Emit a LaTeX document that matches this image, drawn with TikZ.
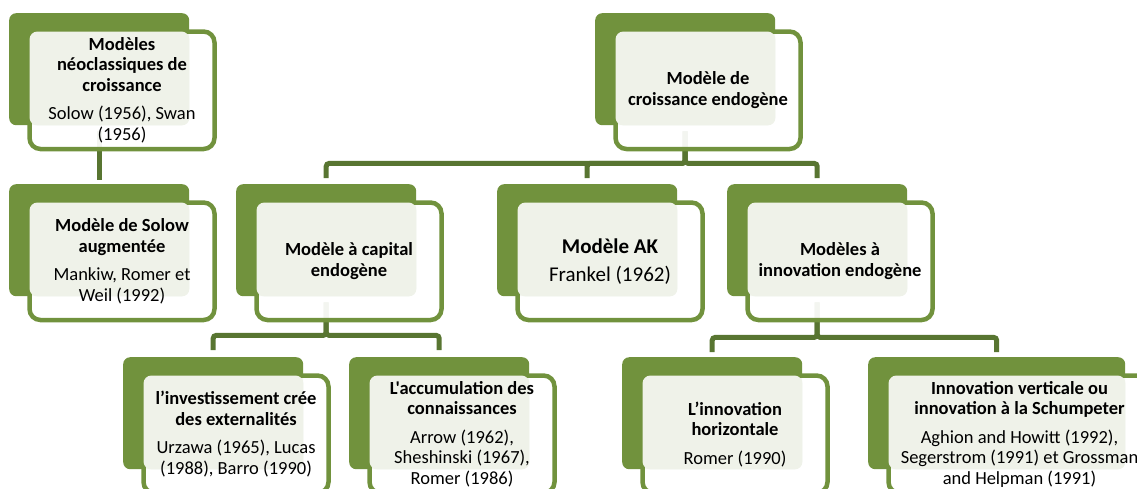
\documentclass[tikz,border=0pt]{standalone}
\usepackage{fontspec}
\setmainfont{Carlito}[Ligatures=TeXOff]
\usetikzlibrary{calc}

\definecolor{BoxGreen}{HTML}{71923D}
\definecolor{LinkGreen}{HTML}{587531}
\definecolor{TintGreen}{HTML}{EFF2E9}

\tikzset{
  backbox/.style={rectangle, rounded corners=7pt, fill=BoxGreen, inner sep=0pt,
    anchor=north west, minimum height=112pt},
  frontbox/.style={rectangle, rounded corners=11pt, draw=BoxGreen, line width=4.5pt,
    fill=white, fill opacity=0.93, inner sep=0pt, anchor=north west, minimum height=117.5pt},
  tint/.style={fill=TintGreen, rounded corners=8pt},
  link/.style={draw=LinkGreen, line width=5pt, rounded corners=3pt},
  boxtext/.style={align=center, inner sep=0pt, font=\fontsize{18.5}{20.5}\selectfont},
}

\begin{document}
\begin{tikzpicture}[x=1pt, y=-1pt]

\useasboundingbox (0,0) rectangle (1137,488);

% Back boxes
\foreach \nm/\x/\y/\w in {neo/9/13/180, solow/9/184/180, endo/595/13/180,
    capital/236/184/180, ak/497/184/180, innov/727/184/180,
    invest/123/357/180, accum/349/357/180, horiz/622/357/180, schump/868/357/257}
{
    \node[backbox, minimum width=\w pt] (\nm B) at (\x,\y) {};
}

% Links
\draw[link, shorten <=6pt, shorten >=4pt] (neoB.south) -- (solowB.north);

\coordinate (endoBus) at ($(endoB.south)+(0,38)$);
\draw[link, shorten <=6pt, shorten >=6pt] (endoB.south) -- (endoBus) -| (capitalB.north);
\draw[link, shorten <=6pt, shorten >=6pt] (endoB.south) -- (endoBus) -| (akB.north);
\draw[link, shorten <=6pt, shorten >=6pt] (endoB.south) -- (endoBus) -| (innovB.north);

\coordinate (capitalBus) at ($(capitalB.south)+(0,39)$);
\draw[link, shorten <=6pt, shorten >=7pt] (capitalB.south) -- (capitalBus) -| (investB.north);
\draw[link, shorten <=6pt, shorten >=7pt] (capitalB.south) -- (capitalBus) -| (accumB.north);

\coordinate (innovBus) at ($(innovB.south)+(0,41)$);
\draw[link, shorten <=6pt, shorten >=5pt] (innovB.south) -- (innovBus) -| (horizB.north);
\draw[link, shorten <=6pt, shorten >=5pt] (innovB.south) -- (innovBus) -| (schumpB.north);

% Front boxes
\foreach \nm/\x/\y/\w in {neo/9/13/180, solow/9/184/180, endo/595/13/180,
    capital/236/184/180, ak/497/184/180, innov/727/184/180,
    invest/123/357/180, accum/349/357/180, horiz/622/357/180, schump/868/357/257}
{
    \node[frontbox, minimum width=\w pt+5pt] (\nm F) at (\x+18.25,\y+16.25) {};
    \fill[tint] ($(\nm F.north west)+(2.25,2.25)$) rectangle (\nm B.south east);
}

% Labels
\node[boxtext] (neoT) at (neoF.center)
    {\textbf{Modèles}\\\textbf{néoclassiques de}\\\textbf{croissance}\\[8pt]Solow (1956), Swan\\(1956)};
\node[boxtext] (solowT) at (solowF.center)
    {\textbf{Modèle de Solow}\\\textbf{augmentée}\\[8pt]Mankiw, Romer et\\Weil (1992)};
\node[boxtext] (endoT) at (endoF.center)
    {\textbf{Modèle de}\\\textbf{croissance endogène}};
\node[boxtext] (capitalT) at (capitalF.center)
    {\textbf{Modèle à capital}\\\textbf{endogène}};
\node[boxtext, font=\fontsize{21}{28}\selectfont] (akT) at (akF.center)
    {\textbf{Modèle AK}\\Frankel (1962)};
\node[boxtext] (innovT) at (innovF.center)
    {\textbf{Modèles à}\\\textbf{innovation endogène}};
\node[boxtext] (investT) at (investF.center)
    {\textbf{l’investissement crée}\\\textbf{des externalités}\\[8pt]Urzawa (1965), Lucas\\(1988), Barro (1990)};
\node[boxtext] (accumT) at (accumF.center)
    {\textbf{L'accumulation des}\\\textbf{connaissances}\\[8pt]Arrow (1962),\\Sheshinski (1967),\\Romer (1986)};
\node[boxtext] (horizT) at (horizF.center)
    {\textbf{L’innovation}\\\textbf{horizontale}\\[8pt]Romer (1990)};
\node[boxtext] (schumpT) at (schumpF.center)
    {\textbf{Innovation verticale ou}\\\textbf{innovation à la Schumpeter}\\[8pt]Aghion and Howitt (1992),\\Segerstrom (1991) et Grossman\\and Helpman (1991)};

\end{tikzpicture}
\end{document}
